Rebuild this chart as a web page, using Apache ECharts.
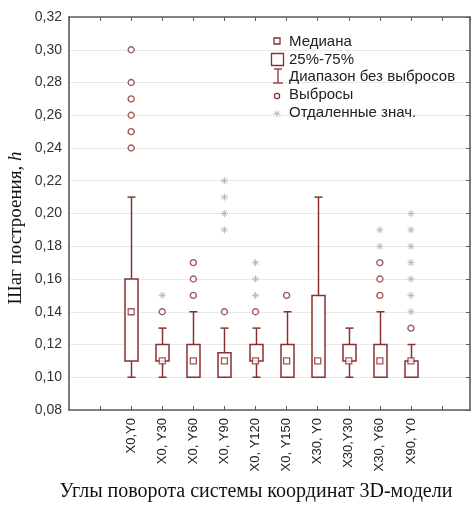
<!DOCTYPE html>
<html>
<head>
<meta charset="utf-8">
<script src="https://cdn.jsdelivr.net/npm/echarts@6/dist/echarts.min.js"></script>
<style>
html,body{margin:0;padding:0;background:#fff;}
#chart{width:471px;height:507px;}
</style>
</head>
<body>
<div id="chart"></div>
<script>
// ---- data ----
const categories = ['X0,Y0','X0, Y30','X0, Y60','X0, Y90','X0, Y120','X0, Y150','X30, Y0','X30,Y30','X30, Y60','X90, Y0'];
const whiskerLow  = [0.10,0.10,0.10,0.10,0.10,0.10,0.10,0.10,0.10,0.10];
const quartile1   = [0.11,0.11,0.10,0.10,0.11,0.10,0.10,0.11,0.10,0.10];
const medians     = [0.14,0.11,0.11,0.11,0.11,0.11,0.11,0.11,0.11,0.11];
const quartile3   = [0.16,0.12,0.12,0.115,0.12,0.12,0.15,0.12,0.12,0.11];
const whiskerHigh = [0.21,0.13,0.14,0.13,0.13,0.14,0.21,0.13,0.14,0.12];
const outliers = [
  [0.24,0.25,0.26,0.27,0.28,0.30],[0.14],[0.15,0.16,0.17],[0.14],[0.14],[0.15],[],[],[0.15,0.16,0.17],[0.13]
];
const extremes = [
  [],[0.15],[],[0.19,0.20,0.21,0.22],[0.15,0.16,0.17],[],[],[],[0.18,0.19],[0.14,0.15,0.16,0.17,0.18,0.19,0.20]
];
const yTicks = {min:0.08, max:0.32, step:0.02};
const legendLabels = ['Медиана','25%-75%','Диапазон без выбросов','Выбросы','Отдаленные знач.'];
const yTitle = 'Шаг построения, ';
const yTitleVar = 'h';
const xTitle = 'Углы поворота системы координат 3D-модели';

// ---- styles ----
const RED = '#8a3030';
const GREY = '#b8b8b8';
const AXIS = '#5c5c5c';
const OFFSET = 2; // first category sits at x = 2

const pos = i => i + OFFSET;
const boxData = categories.map((c,i)=>[pos(i), whiskerLow[i], quartile1[i], medians[i], quartile3[i], whiskerHigh[i]]);
const medianData = categories.map((c,i)=>[pos(i), medians[i]]);
const outlierData = [];
outliers.forEach((arr,i)=>arr.forEach(v=>outlierData.push([pos(i), v])));
const extremeData = [];
extremes.forEach((arr,i)=>arr.forEach(v=>extremeData.push([pos(i), v])));

function fmtY(v){ return v.toFixed(2).replace('.', ','); }
function fmtX(v){
  const i = Math.round(v) - OFFSET;
  if (Math.abs(v - Math.round(v)) > 1e-6) return '';
  return (i >= 0 && i < categories.length) ? categories[i] : '';
}

const chart = echarts.init(document.getElementById('chart'));
const axisLineStyle = {color: AXIS, width: 1.6};
const LFONT = '15px "Liberation Sans", Arial';
const option = {
  animation: false,
  backgroundColor: '#fff',
  grid: {left: 69, top: 17, right: 1, bottom: 97, containLabel: false},
  xAxis: [
    {type:'value', min:0, max:12.9, interval:1, position:'bottom',
     axisLine:{show:true, onZero:false, lineStyle:axisLineStyle},
     axisTick:{show:true, inside:true, length:4, lineStyle:{color:AXIS}},
     splitLine:{show:false},
     axisLabel:{show:true, rotate:90, margin:8, fontFamily:'Liberation Sans, Arial', fontSize:13, color:'#222',
                formatter: fmtX, showMinLabel:false, showMaxLabel:false}},
    {type:'value', min:0, max:12.9, interval:1, position:'top',
     axisLine:{show:true, onZero:false, lineStyle:axisLineStyle},
     axisTick:{show:true, inside:true, length:4, lineStyle:{color:AXIS}},
     splitLine:{show:false}, axisLabel:{show:false}}
  ],
  yAxis: [
    {type:'value', min:yTicks.min, max:yTicks.max, interval:yTicks.step, position:'left',
     axisLine:{show:true, onZero:false, lineStyle:axisLineStyle},
     axisTick:{show:false},
     splitLine:{show:true, lineStyle:{color:'#e9e9e9', width:1}},
     axisLabel:{margin:7, fontFamily:'Liberation Sans, Arial', fontSize:14, color:'#333', formatter: fmtY}},
    {type:'value', min:yTicks.min, max:yTicks.max, interval:yTicks.step, position:'right',
     axisLine:{show:true, onZero:false, lineStyle:axisLineStyle},
     axisTick:{show:true, inside:true, length:4, lineStyle:{color:AXIS}},
     splitLine:{show:false}, axisLabel:{show:false}}
  ],
  series: [
    {
      name:'Диапазон без выбросов', type:'custom', xAxisIndex:0, yAxisIndex:0, z:3,
      data: boxData,
      renderItem: function(params, api){
        const x = api.value(0);
        const pLow = api.coord([x, api.value(1)]);
        const pQ1 = api.coord([x, api.value(2)]);
        const pQ3 = api.coord([x, api.value(4)]);
        const pHigh = api.coord([x, api.value(5)]);
        const cx = Math.round(pLow[0]) + 0.5;
        const cap = 4;
        const st = {stroke: RED, lineWidth: 1.5};
        return {type:'group', children:[
          {type:'line', shape:{x1:cx, y1:pLow[1], x2:cx, y2:pQ1[1]}, style:st},
          {type:'line', shape:{x1:cx, y1:pQ3[1], x2:cx, y2:pHigh[1]}, style:st},
          {type:'line', shape:{x1:cx-cap, y1:pLow[1], x2:cx+cap, y2:pLow[1]}, style:st},
          {type:'line', shape:{x1:cx-cap, y1:pHigh[1], x2:cx+cap, y2:pHigh[1]}, style:st}
        ]};
      }
    },
    {
      name:'25%-75%', type:'custom', xAxisIndex:0, yAxisIndex:0, z:4,
      data: boxData,
      renderItem: function(params, api){
        const x = api.value(0);
        const pQ1 = api.coord([x, api.value(2)]);
        const pQ3 = api.coord([x, api.value(4)]);
        const cx = Math.round(pQ1[0]) + 0.5;
        const hw = 6.5;
        return {type:'rect', shape:{x:cx-hw, y:pQ3[1], width:hw*2, height:pQ1[1]-pQ3[1]},
                style:{fill:'#fff', stroke: RED, lineWidth:1.5}};
      }
    },
    {
      name:'Медиана', type:'scatter', xAxisIndex:0, yAxisIndex:0, z:5,
      data: medianData, symbol:'rect', symbolSize:6,
      itemStyle:{color:'#fff', borderColor:RED, borderWidth:1.3}
    },
    {
      name:'Выбросы', type:'scatter', xAxisIndex:0, yAxisIndex:0, z:5,
      data: outlierData, symbol:'circle', symbolSize:6,
      itemStyle:{color:'#fff', borderColor:RED, borderWidth:1.4}
    },
    {
      name:'Отдаленные знач.', type:'custom', xAxisIndex:0, yAxisIndex:0, z:5,
      data: extremeData,
      renderItem: function(params, api){
        const p = api.coord([api.value(0), api.value(1)]);
        const r = 3.5, d = 2.5;
        const st = {stroke: GREY, lineWidth: 1};
        return {type:'group', children:[
          {type:'line', shape:{x1:p[0]-r, y1:p[1], x2:p[0]+r, y2:p[1]}, style:st},
          {type:'line', shape:{x1:p[0], y1:p[1]-r, x2:p[0], y2:p[1]+r}, style:st},
          {type:'line', shape:{x1:p[0]-d, y1:p[1]-d, x2:p[0]+d, y2:p[1]+d}, style:st},
          {type:'line', shape:{x1:p[0]-d, y1:p[1]+d, x2:p[0]+d, y2:p[1]-d}, style:st}
        ]};
      }
    }
  ],
  graphic: [
    // legend background
    {type:'rect', z:0, shape:{x:268, y:29, width:194, height:95}, style:{fill:'#fff'}},
    // legend icons
    {type:'rect', z:1, shape:{x:274, y:38, width:6, height:6}, style:{fill:'#fff', stroke:RED, lineWidth:1.3}},
    {type:'rect', z:1, shape:{x:271.5, y:53.5, width:12, height:12}, style:{fill:'#fff', stroke:RED, lineWidth:1.3}},
    {type:'line', z:1, shape:{x1:278, y1:69, x2:278, y2:83}, style:{stroke:RED, lineWidth:1.3}},
    {type:'line', z:1, shape:{x1:274, y1:69, x2:282, y2:69}, style:{stroke:RED, lineWidth:1.3}},
    {type:'line', z:1, shape:{x1:273, y1:83, x2:283, y2:83}, style:{stroke:RED, lineWidth:1.3}},
    {type:'circle', z:1, shape:{cx:277, cy:96, r:2.6}, style:{fill:'#fff', stroke:RED, lineWidth:1.3}},
    {type:'group', z:1, x:277, y:114, children:[
      {type:'line', shape:{x1:-3.5, y1:0, x2:3.5, y2:0}, style:{stroke:GREY, lineWidth:1}},
      {type:'line', shape:{x1:0, y1:-3.5, x2:0, y2:3.5}, style:{stroke:GREY, lineWidth:1}},
      {type:'line', shape:{x1:-2.5, y1:-2.5, x2:2.5, y2:2.5}, style:{stroke:GREY, lineWidth:1}},
      {type:'line', shape:{x1:-2.5, y1:2.5, x2:2.5, y2:-2.5}, style:{stroke:GREY, lineWidth:1}}
    ]},
    {type:'text', z:1, x:289, y:42, style:{text:legendLabels[0], font:LFONT, fill:'#222', verticalAlign:'middle'}},
    {type:'text', z:1, x:289, y:60, style:{text:legendLabels[1], font:LFONT, fill:'#222', verticalAlign:'middle'}},
    {type:'text', z:1, x:289, y:77, style:{text:legendLabels[2], font:LFONT, fill:'#222', verticalAlign:'middle'}},
    {type:'text', z:1, x:289, y:95, style:{text:legendLabels[3], font:LFONT, fill:'#222', verticalAlign:'middle'}},
    {type:'text', z:1, x:289, y:113, style:{text:legendLabels[4], font:LFONT, fill:'#222', verticalAlign:'middle'}},
    // axis titles
    {type:'text', x:16, y:228, rotation:Math.PI/2,
     style:{text:'{a|'+yTitle+'}{b|'+yTitleVar+'}', align:'center', verticalAlign:'middle',
            rich:{a:{fontFamily:'Liberation Serif', fontSize:19, fill:'#111'},
                  b:{fontFamily:'Liberation Serif', fontSize:19, fontStyle:'italic', fill:'#111'}}}},
    {type:'text', x:256, y:492,
     style:{text:xTitle, font:'20px "Liberation Serif"', fill:'#111', align:'center', verticalAlign:'middle'}}
  ]
};
chart.setOption(option);
</script>
</body>
</html>
